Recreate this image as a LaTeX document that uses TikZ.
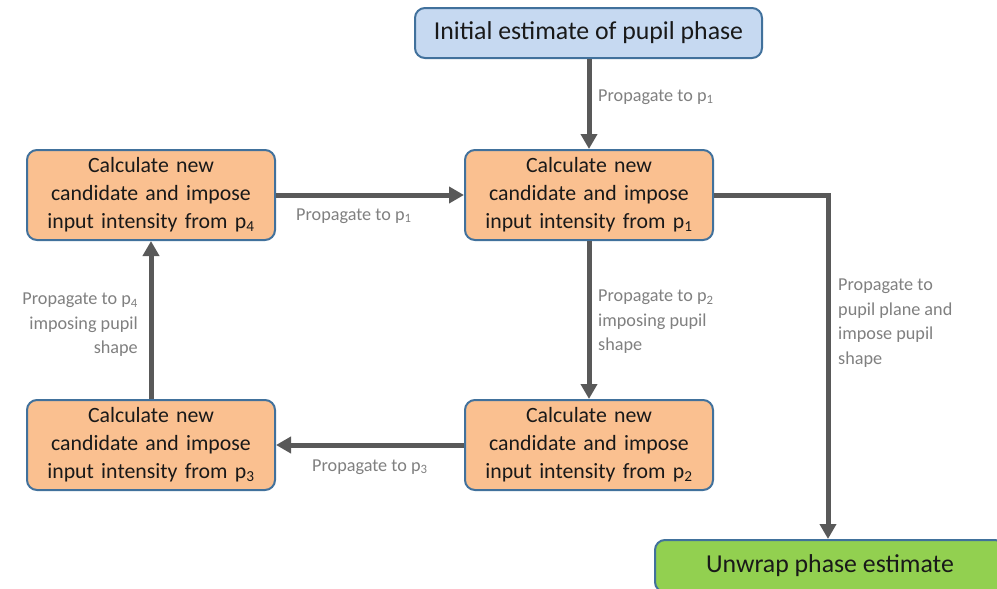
\documentclass[tikz,border=0pt]{standalone}
\usepackage{fontspec}
\setmainfont{Carlito}
\usetikzlibrary{arrows.meta}
\definecolor{boxborder}{HTML}{41719C}
\definecolor{orangefill}{HTML}{FAC090}
\definecolor{bluefill}{HTML}{C6D9F1}
\definecolor{greenfill}{HTML}{92D050}
\definecolor{arrowgray}{HTML}{595959}
\definecolor{labelgray}{HTML}{808080}
\tikzset{
  calcbox/.style={draw=boxborder, line width=2pt, fill=orangefill, rounded corners=10pt,
    minimum width=248pt, minimum height=90pt, text width=244pt, align=center,
    inner sep=0pt, font=\fontsize{21.8}{28}\selectfont, text=black!90},
  endbox/.style={draw=boxborder, line width=2pt, rounded corners=10pt,
    inner sep=0pt, font=\fontsize{25.8}{28}\selectfont, text=black!90},
  flow/.style={draw=arrowgray, line width=5pt, -{Triangle[length=15pt,width=16pt]}},
  lbl/.style={text=labelgray, font=\fontsize{18.2}{24.5}\selectfont, inner sep=0pt}
}
\begin{document}
\begin{tikzpicture}[x=1pt,y=-1pt]
\useasboundingbox (0,0) rectangle (997,589);
\fill[white] (0,0) rectangle (997,589);
% nodes
\node[endbox, fill=bluefill, minimum width=347pt, minimum height=50pt] (init) at (588.5,33) {Initial estimate of pupil phase};
\node[calcbox] (p1) at (589,195) {\rule{0pt}{3pt}Calculate new\\candidate and impose\\input intensity from p\textsubscript{1}};
\node[calcbox] (p4) at (151,195) {\rule{0pt}{3pt}Calculate new\\candidate and impose\\input intensity from p\textsubscript{4}};
\node[calcbox] (p3) at (151,445) {\rule{0pt}{3pt}Calculate new\\candidate and impose\\input intensity from p\textsubscript{3}};
\node[calcbox] (p2) at (589,445) {\rule{0pt}{3pt}Calculate new\\candidate and impose\\input intensity from p\textsubscript{2}};
\node[endbox, fill=greenfill, minimum width=350pt, minimum height=52pt] (unwrap) at (830,566) {Unwrap phase estimate};
\coordinate (corner) at (828,195);
% connectors
\draw[flow] (init.south -| p1.north) -- (p1.north);
\draw[flow] (p4.east) -- (p1.west);
\draw[flow] (p1.south) -- (p2.north);
\draw[flow] (p2.west) -- (p3.east);
\draw[flow] (p3.north) -- (p4.south);
\draw[flow] (p1.east) -- (corner) -- (corner |- unwrap.north);
% labels
\node[lbl, anchor=west] (l1) at (598,97) {Propagate to p\textsubscript{1}};
\node[lbl, anchor=west] (l2) at (296,216) {Propagate to p\textsubscript{1}};
\node[lbl, anchor=north west, align=left] (l3) at (598,290) {Propagate to p\textsubscript{2}\\imposing pupil\\shape};
\node[lbl, anchor=west] (l4) at (312,467) {Propagate to p\textsubscript{3}};
\node[lbl, anchor=north east, align=right] (l5) at (138,293) {Propagate to p\textsubscript{4}\\imposing pupil\\shape};
\node[lbl, anchor=north west, align=left] (l6) at (838,279) {Propagate to\\pupil plane and\\impose pupil\\shape};
\end{tikzpicture}
\end{document}
